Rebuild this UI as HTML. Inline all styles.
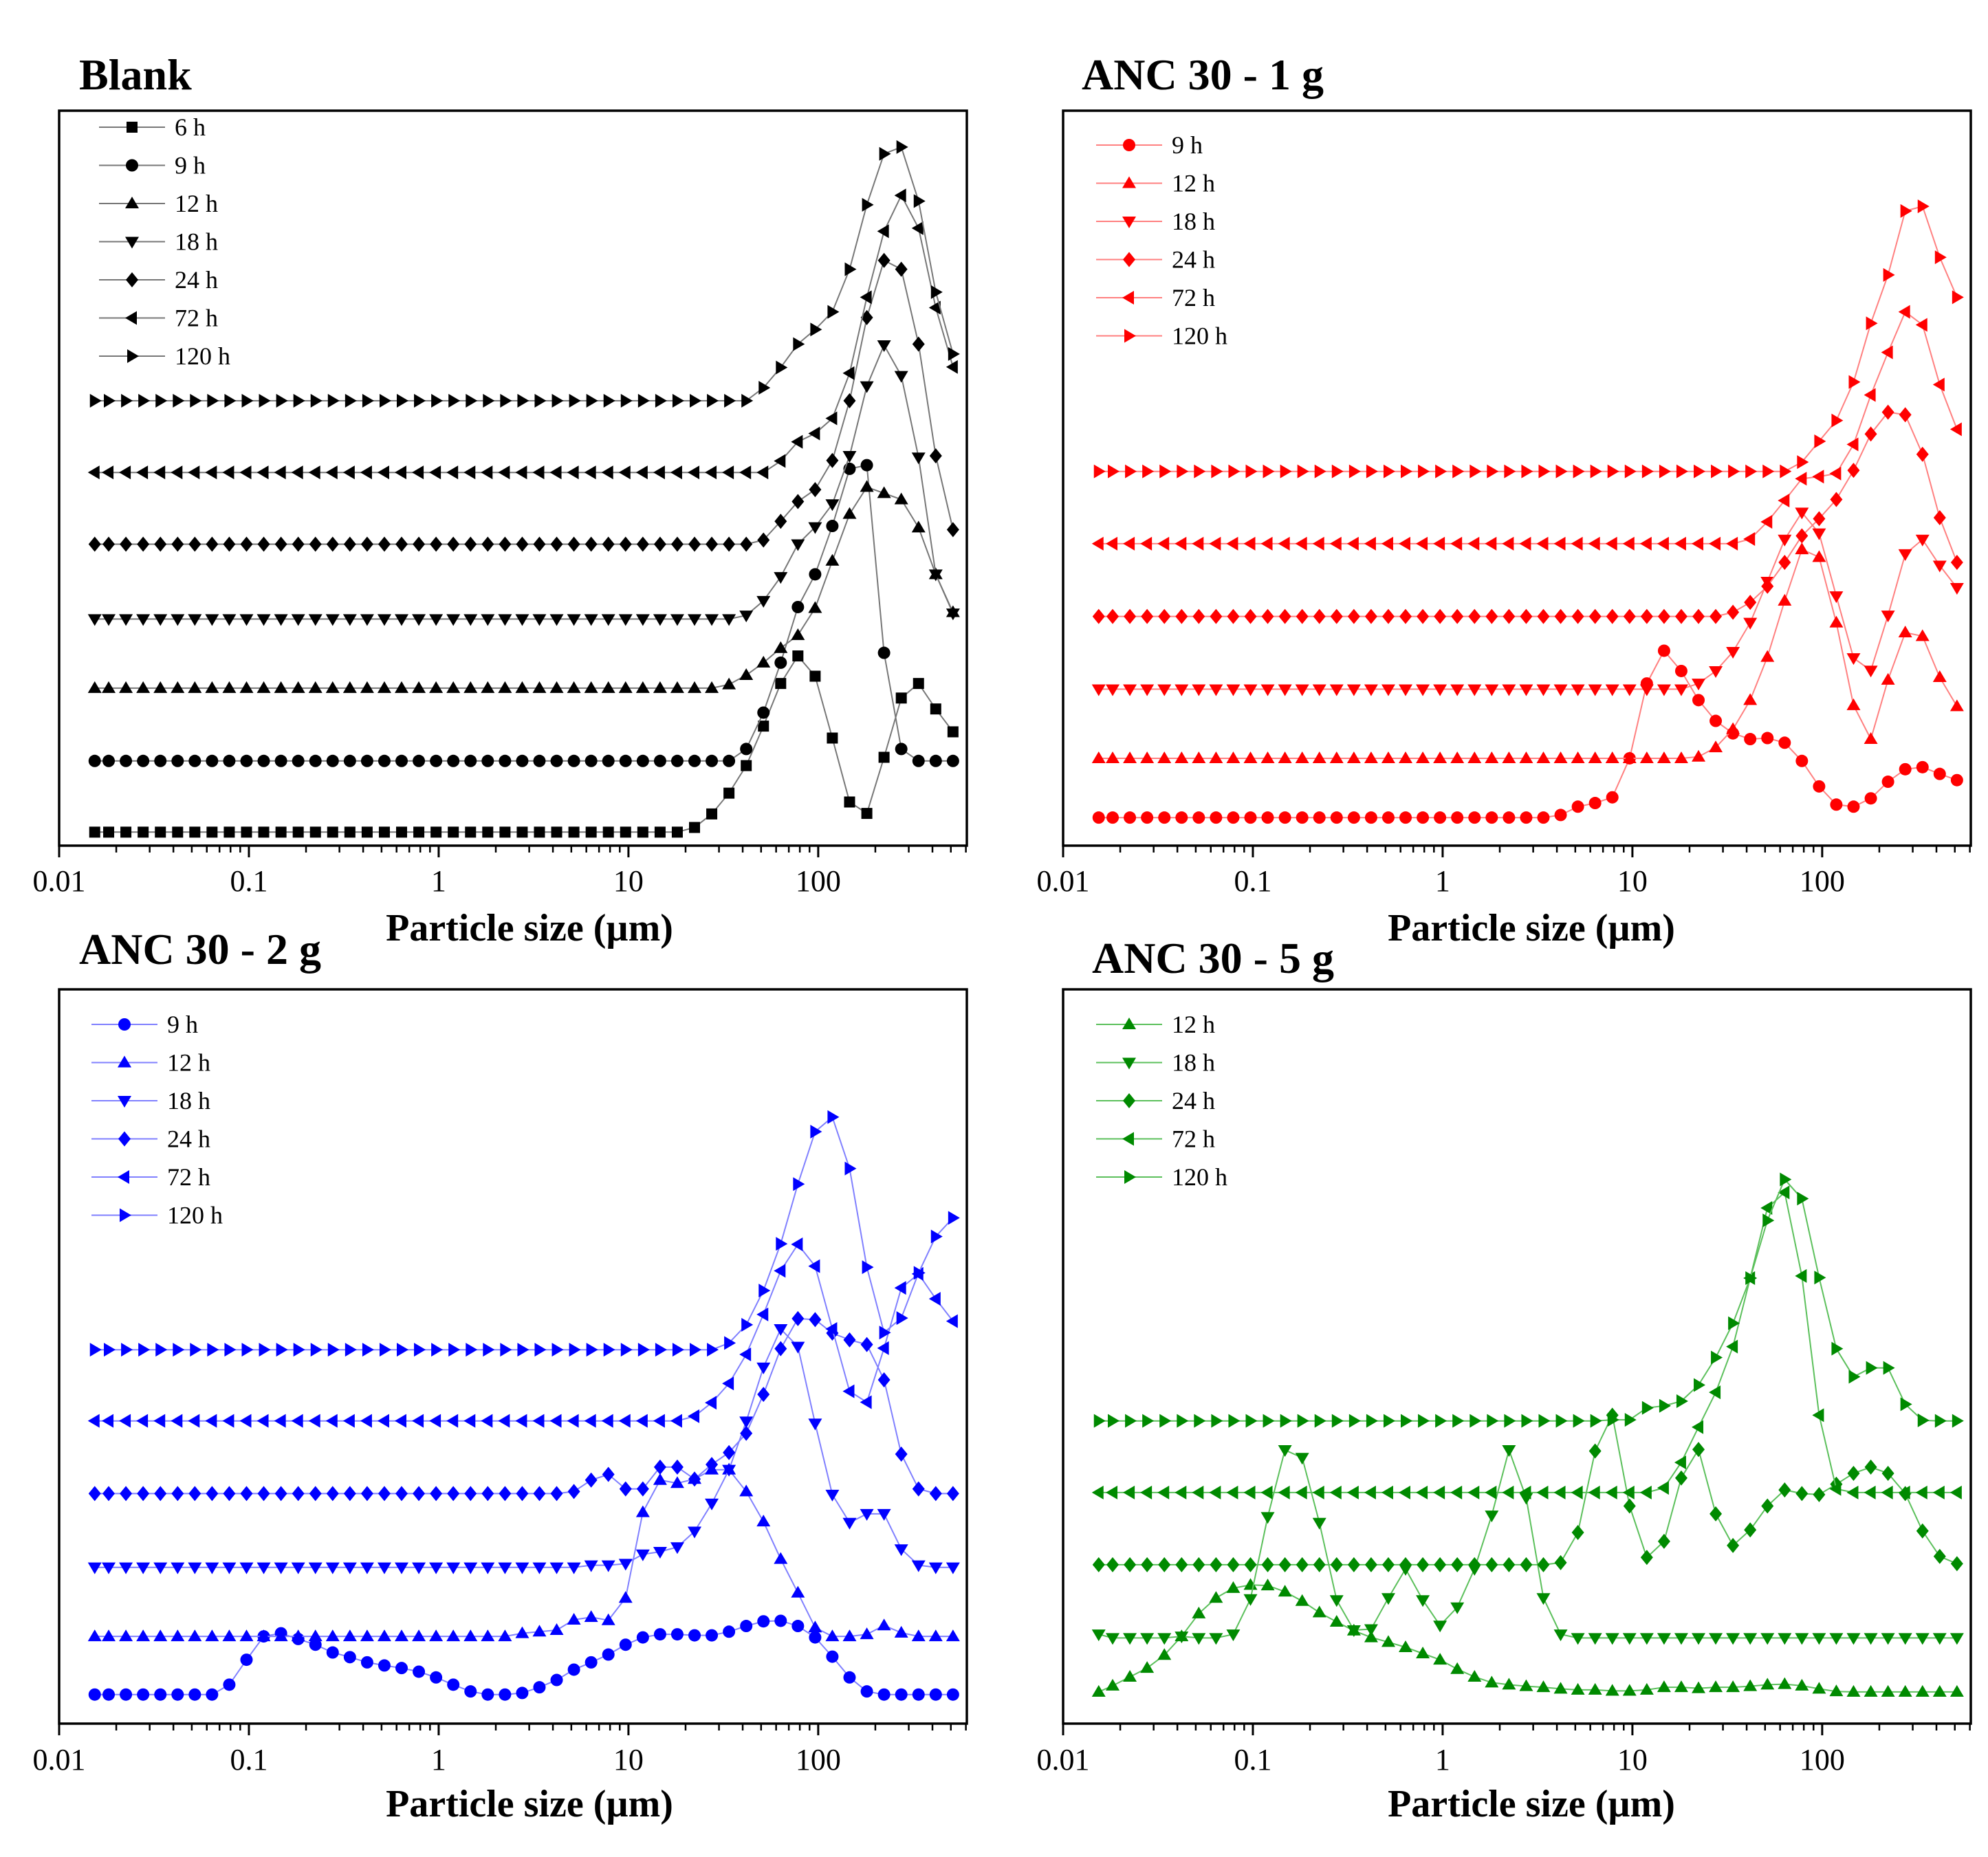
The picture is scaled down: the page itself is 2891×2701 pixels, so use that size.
<!DOCTYPE html>
<html><head><meta charset="utf-8"><style>
html,body{margin:0;padding:0;background:#fff;}
svg{display:block;}
text{font-family:"Liberation Serif",serif;}
</style></head><body>
<svg id="fig" width="2891" height="2701" viewBox="0 0 2891 2701" xmlns="http://www.w3.org/2000/svg"></svg>
<script>
// particle size grid (µm)
const sizes=[0.0154,0.01824,0.02248,0.02771,0.03416,0.04211,0.05188,0.06394,0.07881,0.09714,0.1197,0.1476,0.1819,0.2242,0.2763,0.3406,0.4198,0.5174,0.6377,0.7860,0.9687,1.194,1.472,1.814,2.236,2.756,3.396,4.186,5.160,6.360,7.838,9.661,11.91,14.68,18.09,22.30,27.48,33.87,41.75,51.46,63.43,78.16,96.34,118.7,146.3,180.4,222.3,274.0,337.8,416.3,513.1];
const xTickLabels=["0.01","0.1","1","10","100"];
const xTickValues=[0.01,0.1,1,10,100];

// Blank
const blank6h=[26,26,26,26,26,26,26,26,26,26, 26,26,26,26,26,26,26,26,26,26, 26,26,26,26,26,26,26,26,26,26, 26,26,26,26,26,35,61,101,154,230,312,365,326,207,84,62,170,284,312,263,219];
const blank9h=[163,163,163,163,163,163,163,163,163,163, 163,163,163,163,163,163,163,163,163,163, 163,163,163,163,163,163,163,163,163,163, 163,163,163,163,163,163,163,163,186,256,352,459,522,615,725,732,371,186,163,163,163];
const blank12h=[303,303,303,303,303,303,303,303,303,303, 303,303,303,303,303,303,303,303,303,303, 303,303,303,303,303,303,303,303,303,303, 303,303,303,303,303,303,303,310,328,352,380,405,457,548,638,690,678,666,612,522,449];
const blank18h=[436,436,436,436,436,436,436,436,436,436, 436,436,436,436,436,436,436,436,436,436, 436,436,436,436,436,436,436,436,436,436, 436,436,436,436,436,436,436,436,443,471,517,580,613,657,750,884,963,904,747,522,447];
const blank24h=[580,580,580,580,580,580,580,580,580,580, 580,580,580,580,580,580,580,580,580,580, 580,580,580,580,580,580,580,580,580,580, 580,580,580,580,580,580,580,580,580,588,624,662,685,741,856,1016,1126,1109,965,750,608];
const blank72h=[718,718,718,718,718,718,718,718,718,718, 718,718,718,718,718,718,718,718,718,718, 718,718,718,718,718,718,718,718,718,718, 718,718,718,718,718,718,718,718,718,718,740,777,793,822,909,1055,1182,1251,1188,1035,921];
const blank120h=[856,856,856,856,856,856,856,856,856,856, 856,856,856,856,856,856,856,856,856,856, 856,856,856,856,856,856,856,856,856,856, 856,856,856,856,856,856,856,856,856,881,920,965,993,1027,1109,1233,1331,1344,1240,1065,946];

// ANC 30 - 1 g
const g1_9h=[54,54,54,54,54,54,54,54,54,54, 54,54,54,54,54,54,54,54,54,54, 54,54,54,54,54,54,54,59,75,82,93,168,312,375,336,280,240,216,205,207,198,163,114,79,75,91,123,147,151,138,126];
const g1_12h=[168,168,168,168,168,168,168,168,168,168, 168,168,168,168,168,168,168,168,168,168, 168,168,168,168,168,168,168,168,168,168, 168,168,168,168,168,171,189,224,280,363,471,570,555,429,270,205,319,410,403,324,268];
const g1_18h=[301,301,301,301,301,301,301,301,301,301, 301,301,301,301,301,301,301,301,301,301, 301,301,301,301,301,301,301,301,301,301, 301,301,301,301,301,312,336,373,429,508,589,641,601,480,361,337,443,561,589,539,496];
const g1_24h=[441,441,441,441,441,441,441,441,441,441, 441,441,441,441,441,441,441,441,441,441, 441,441,441,441,441,441,441,441,441,441, 441,441,441,441,441,441,441,449,468,499,545,596,629,666,722,792,834,829,753,631,545];
const g1_72h=[581,581,581,581,581,581,581,581,581,581, 581,581,581,581,581,581,581,581,581,581, 581,581,581,581,581,581,581,581,581,581, 581,581,581,581,581,581,581,581,590,623,664,706,710,716,772,867,949,1027,1002,887,801];
const g1_120h=[720,720,720,720,720,720,720,720,720,720, 720,720,720,720,720,720,720,720,720,720, 720,720,720,720,720,720,720,720,720,720, 720,720,720,720,720,720,720,720,720,720,720,738,778,818,892,1005,1098,1221,1230,1132,1055];

// ANC 30 - 2 g
const g2_9h=[56,56,56,56,56,56,56,56,75,123,168,174,163,152,137,128,118,112,107,100,89,75,62,56,56,59,70,84,104,118,133,152,166,172,172,170,170,177,188,197,198,188,166,129,89,62,56,56,56,56,56];
const g2_12h=[168,168,168,168,168,168,168,168,168,168, 168,168,168,168,168,168,168,168,168,168, 168,168,168,168,168,174,177,180,200,205,199,242,407,469,463,471,489,489,447,389,317,252,185,168,168,172,189,175,168,168,168];
const g2_18h=[301,301,301,301,301,301,301,301,301,301, 301,301,301,301,301,301,301,301,301,301, 301,301,301,301,301,301,301,301,301,305,305,308,326,331,340,370,424,489,582,686,760,726,578,441,387,404,404,336,305,301,301];
const g2_24h=[443,443,443,443,443,443,443,443,443,443, 443,443,443,443,443,443,443,443,443,443, 443,443,443,443,443,443,443,443,447,469,480,452,452,494,494,471,499,522,559,634,722,780,778,752,739,730,662,519,452,443,443];
const g2_72h=[583,583,583,583,583,583,583,583,583,583, 583,583,583,583,583,583,583,583,583,583, 583,583,583,583,583,583,583,583,583,583, 583,583,583,583,583,592,618,655,711,788,872,923,881,760,640,619,723,839,866,818,775];
const g2_120h=[720,720,720,720,720,720,720,720,720,720, 720,720,720,720,720,720,720,720,720,720, 720,720,720,720,720,720,720,720,720,720, 720,720,720,720,720,720,720,733,768,834,924,1039,1140,1168,1069,879,753,781,868,938,974];

// ANC 30 - 5 g
const g5_12h=[61,73,90,107,132,168,212,242,261,267,266,254,236,214,196,179,166,157,147,135,123,105,90,79,75,72,70,67,65,65,63,63,65,70,70,68,70,70,72,75,76,73,67,62,61,61,61,61,61,61,61];
const g5_18h=[172,165,165,165,165,168,165,165,172,240,398,527,512,387,238,180,182,242,298,238,189,224,298,401,527,435,242,172,165,165,165,165,165,165,165,165,165,165,165,165,165,165,165,165,165,165,165,165,165,165,165];
const g5_24h=[306,306,306,306,306,306,306,306,306,306, 306,306,306,306,306,306,306,306,306,306, 306,306,306,306,306,306,306,310,368,525,594,419,320,351,473,528,404,343,373,419,450,443,441,461,482,494,482,443,371,322,308];
const g5_72h=[445,445,445,445,445,445,445,445,445,445, 445,445,445,445,445,445,445,445,445,445, 445,445,445,445,445,445,445,445,445,445, 445,445,445,454,503,571,638,726,858,993,1023,862,594,452,445,445,445,445,445,445,445];
const g5_120h=[583,583,583,583,583,583,583,583,583,583, 583,583,583,583,583,583,583,583,583,583, 583,583,583,583,583,583,583,583,583,583,585,585,608,612,621,652,705,771,858,969,1048,1011,859,722,668,685,685,615,584,583,583];

const NS="http://www.w3.org/2000/svg";
const svg=document.getElementById('fig');
function mk(tag,attrs,parent){const e=document.createElementNS(NS,tag);for(const k in attrs)e.setAttribute(k,attrs[k]);(parent||svg).appendChild(e);return e;}

const YMAX=1414, XMIN=0.01, XMAX=607;
const panels=[
 {key:'blank',title:'Blank',x0:86,x1:1406,y0:161,y1:1230,tx:115,ty:130,axy:1296,aty:1368,atx:770,
  mc:'#000',lc:'#777',leg:{x:144,y:185},
  series:[['6 h','square',blank6h],['9 h','circle',blank9h],['12 h','up',blank12h],['18 h','down',blank18h],['24 h','diamond',blank24h],['72 h','left',blank72h],['120 h','right',blank120h]]},
 {key:'anc1g',title:'ANC 30 - 1 g',x0:1546,x1:2866,y0:161,y1:1230,tx:1573,ty:130,axy:1296,aty:1368,atx:2227,
  mc:'#ff0000',lc:'#ff8080',leg:{x:1594,y:211},
  series:[['9 h','circle',g1_9h],['12 h','up',g1_12h],['18 h','down',g1_18h],['24 h','diamond',g1_24h],['72 h','left',g1_72h],['120 h','right',g1_120h]]},
 {key:'anc2g',title:'ANC 30 - 2 g',x0:86,x1:1406,y0:1439,y1:2507,tx:115,ty:1402,axy:2574,aty:2642,atx:770,
  mc:'#0000ff',lc:'#8080ff',leg:{x:133,y:1490},
  series:[['9 h','circle',g2_9h],['12 h','up',g2_12h],['18 h','down',g2_18h],['24 h','diamond',g2_24h],['72 h','left',g2_72h],['120 h','right',g2_120h]]},
 {key:'anc5g',title:'ANC 30 - 5 g',x0:1546,x1:2866,y0:1439,y1:2507,tx:1588,ty:1415,axy:2574,aty:2642,atx:2227,
  mc:'#008a00',lc:'#5cc05c',leg:{x:1594,y:1490},
  series:[['12 h','up',g5_12h],['18 h','down',g5_18h],['24 h','diamond',g5_24h],['72 h','left',g5_72h],['120 h','right',g5_120h]]}
];

function marker(g,shape,x,y,c){
 const r=9;let e;
 if(shape==='circle')e=mk('circle',{cx:x,cy:y,r:r,fill:c},g);
 else if(shape==='square')e=mk('rect',{x:x-8,y:y-8,width:16,height:16,fill:c},g);
 else{let p;
  if(shape==='up')p=[[x,y-r-1],[x+r+1,y+r-2],[x-r-1,y+r-2]];
  else if(shape==='down')p=[[x,y+r+1],[x+r+1,y-r+2],[x-r-1,y-r+2]];
  else if(shape==='left')p=[[x-r-1,y],[x+r-2,y-r-1],[x+r-2,y+r+1]];
  else if(shape==='right')p=[[x+r+1,y],[x-r+2,y-r-1],[x-r+2,y+r+1]];
  else p=[[x,y-r-2],[x+r,y],[x,y+r+2],[x-r,y]];
  e=mk('polygon',{points:p.map(q=>q.join(',')).join(' '),fill:c},g);}
 return e;
}

panels.forEach(P=>{
 const xs=v=>P.x0+(Math.log10(v)-Math.log10(XMIN))/(Math.log10(XMAX)-Math.log10(XMIN))*(P.x1-P.x0);
 const ys=h=>P.y1-h/YMAX*(P.y1-P.y0);
 const g=mk('g',{});
 
 
 const t=mk('text',{x:P.tx,y:P.ty,'font-size':64,'font-weight':'bold',fill:'#000'},g);
 t.textContent=P.title;
 
 
 P.series.forEach((s,si)=>{
  const sg=mk('g',{},g);
  
  
  const pts=s[2].map((h,i)=>xs(sizes[i]).toFixed(1)+','+ys(h).toFixed(1)).join(' ');
  const pl=mk('polyline',{points:pts,fill:'none',stroke:P.lc,'stroke-width':2},sg);
  
  
  s[2].forEach((h,i)=>{
   const m=marker(sg,s[1],xs(sizes[i]),ys(h),P.mc);
   
   
  });
  const ly=P.leg.y+si*55.5;
  const lg=mk('g',{},g);
  
  
  mk('line',{x1:P.leg.x,y1:ly,x2:P.leg.x+96,y2:ly,stroke:P.lc,'stroke-width':2},lg);
  marker(lg,s[1],P.leg.x+48,ly,P.mc);
  const lt=mk('text',{x:P.leg.x+110,y:ly+12,'font-size':36,fill:'#000'},lg);
  lt.textContent=s[0];
 });
 const fr=mk('rect',{x:P.x0,y:P.y0,width:P.x1-P.x0,height:P.y1-P.y0,fill:'none',stroke:'#000','stroke-width':3.5},g);
 
 
 const ax=mk('g',{},g);
 
 
 xTickValues.forEach((v,i)=>{
  const x=xs(v);
  mk('line',{x1:x,y1:P.y1,x2:x,y2:P.y1+17,stroke:'#000','stroke-width':3},ax);
  const tl=mk('text',{x:x,y:P.axy,'font-size':44,'text-anchor':'middle',fill:'#000'},ax);
  tl.textContent=xTickLabels[i];
  
  
  for(let m=2;m<=9;m++){const mv=v*m;if(mv>XMAX)break;const mx=xs(mv);
   mk('line',{x1:mx,y1:P.y1,x2:mx,y2:P.y1+10,stroke:'#000','stroke-width':2.5},ax);}
 });
 const at=mk('text',{x:P.atx,y:P.aty,'font-size':56,'font-weight':'bold','text-anchor':'middle',fill:'#000'},g);
 at.textContent='Particle size (\u00b5m)';
 
 
});
</script>
</body></html>
